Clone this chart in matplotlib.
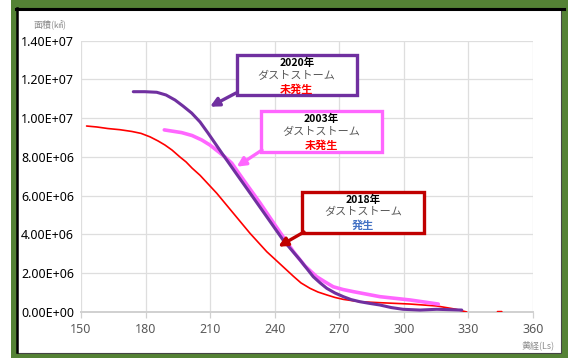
import matplotlib
matplotlib.use("Agg")
import matplotlib.pyplot as plt
from matplotlib.patches import Rectangle, FancyArrowPatch
from matplotlib.lines import Line2D
import numpy as np

plt.rcParams['font.family'] = ['Noto Sans', 'Noto Sans CJK JP', 'DejaVu Sans']

W, H = 568, 358

# --- data (Ls, area km^2) ---
ls_2018 = [152.6, 157.4, 162.5, 168.1, 173.6, 177.9, 182.1, 185.8, 189.0, 192.3,
           196.0, 198.8, 201.6, 205.3, 213.1, 220.8, 228.5, 236.3, 240.9, 248.7,
           252.2, 256.4, 260.1, 264.2, 268.0, 271.9, 279.6, 288.9, 302.9, 315.3,
           323.8, 329.2, np.nan, 343.5, 345.5]
area_2018 = [9.59e6, 9.54e6, 9.46e6, 9.40e6, 9.31e6, 9.21e6, 9.03e6, 8.82e6, 8.61e6, 8.35e6,
             7.99e6, 7.74e6, 7.42e6, 7.05e6, 6.12e6, 5.09e6, 4.06e6, 3.11e6, 2.64e6, 1.84e6,
             1.50e6, 1.22e6, 1.03e6, 8.8e5, 7.5e5, 6.5e5, 5.3e5, 4.8e5, 4.1e5, 3.1e5,
             1.5e5, 0.0, np.nan, 2e4, 2e4]

ls_2003 = [188.7, 196.8, 201.6, 206.1, 209.9, 213.8, 216.9, 220.0, 226.2, 233.2,
           240.1, 248.7, 254.1, 259.5, 263.4, 267.2, 271.7, 276.5, 288.9, 302.9,
           316.0]
area_2003 = [9.39e6, 9.25e6, 9.10e6, 8.87e6, 8.61e6, 8.27e6, 7.99e6, 7.68e6, 6.70e6, 5.62e6,
             4.49e6, 3.11e6, 2.37e6, 1.82e6, 1.55e6, 1.30e6, 1.16e6, 1.05e6, 7.9e5, 6.2e5,
             4.1e5]

ls_2020 = [174.3, 179.7, 185.2, 189.5, 193.7, 197.4, 201.4, 205.3, 209.0, 215.4,
           221.6, 228.5, 236.3, 243.9, 251.8, 257.9, 261.1, 264.2, 268.0, 271.9,
           275.5, 279.6, 284.3, 288.9, 294.1, 299.6, 307.5, 315.3, 326.9]
area_2020 = [1.136e7, 1.136e7, 1.133e7, 1.119e7, 1.093e7, 1.062e7, 1.026e7, 9.80e6, 9.23e6, 8.20e6,
             7.22e6, 6.14e6, 4.91e6, 3.71e6, 2.68e6, 1.82e6, 1.50e6, 1.22e6, 9.8e5, 7.9e5,
             6.4e5, 5.3e5, 4.4e5, 3.6e5, 2.3e5, 1.4e5, 1.0e5, 1.4e5, 1.0e5]

x_ticks = [150, 180, 210, 240, 270, 300, 330, 360]
y_ticks = [0, 2e6, 4e6, 6e6, 8e6, 1.0e7, 1.2e7, 1.4e7]

PURPLE = "#7030a0"
PINK = "#ff66ff"
RED = "#ff0000"
DARKRED = "#c00000"
BLUE = "#4472c4"
CJK = ['Noto Sans CJK JP', 'DejaVu Sans']


def fx(x):
    return x / W


def fy(y):
    return 1 - y / H


fig = plt.figure(figsize=(W / 100, H / 100), dpi=100)

# frame: green border with dark inner edge
fig.add_artist(Rectangle((fx(11), 0), fx(W) - fx(11), 1, transform=fig.transFigure,
                         facecolor="#548235", edgecolor="none", zorder=0))
fig.add_artist(Rectangle((fx(16.5), fy(352.5)), fx(561) - fx(16.5), fy(8) - fy(352.5),
                         transform=fig.transFigure, facecolor="white",
                         edgecolor="#444444", lw=0.8, zorder=0))
fig.add_artist(Line2D([fx(16), fx(564)], [fy(8.5), fy(8.5)], transform=fig.transFigure,
                      color="black", lw=2.2, zorder=1))
fig.add_artist(Line2D([fx(17), fx(17)], [fy(8), fy(352)], transform=fig.transFigure,
                      color="black", lw=1.8, zorder=1))

ax = fig.add_axes([fx(81), fy(312), fx(533) - fx(81), fy(40.5) - fy(312)])
ax.set_facecolor("none")

ax.plot(ls_2018, area_2018, color=RED, lw=1.2, solid_capstyle="round",
        solid_joinstyle="round", zorder=3)
ax.plot(ls_2003, area_2003, color=PINK, lw=2.6, solid_capstyle="round",
        solid_joinstyle="round", zorder=4)
ax.plot(ls_2020, area_2020, color=PURPLE, lw=2.2, solid_capstyle="round",
        solid_joinstyle="round", zorder=5)

ax.set_xlim(150, 360)
ax.set_ylim(0, 1.4e7)
ax.set_xticks(x_ticks)
ax.set_yticks(y_ticks)
ax.set_yticklabels(["{:.2E}".format(v) for v in y_ticks])
ax.grid(True, color="#dedede", lw=0.9)
ax.set_axisbelow(True)
for s in ["top", "right", "left"]:
    ax.spines[s].set_visible(False)
ax.spines["bottom"].set_color("#d0d0d0")
ax.spines["bottom"].set_linewidth(1.4)
ax.tick_params(axis="y", length=0, pad=5, labelsize=9, labelcolor="black")
ax.tick_params(axis="x", length=4, width=0.9, color="#d0d0d0", pad=4,
               labelsize=9, labelcolor="#595959")

fig.text(fx(50), fy(24), "面積(㎢)", fontsize=6.5, color="#8c8c8c", ha="center",
         va="center", family=CJK)
fig.text(fx(538), fy(345), "黄経(Ls)", fontsize=6.5, color="#8c8c8c", ha="center",
         va="center", family=CJK)


def callout(x0, y0, x1, y1, edge, year, status, status_color, tail, tip):
    fig.add_artist(Rectangle((fx(x0), fy(y1)), fx(x1) - fx(x0), fy(y0) - fy(y1),
                             transform=fig.transFigure, facecolor="white",
                             edgecolor=edge, lw=2.4, zorder=6))
    cx = fx((x0 + x1) / 2)
    fig.text(cx, fy(y0 + 8), year, fontsize=7.5, fontweight="bold", color="black",
             ha="center", va="center", zorder=7, family=CJK)
    fig.text(cx, fy(y0 + 20.5), "ダストストーム", fontsize=8, color="#595959",
             ha="center", va="center", zorder=7, family=CJK)
    fig.text(cx, fy(y0 + 34), status, fontsize=8, fontweight="bold", color=status_color,
             ha="center", va="center", zorder=7, family=CJK)
    fig.add_artist(FancyArrowPatch((fx(tail[0]), fy(tail[1])), (fx(tip[0]), fy(tip[1])),
                                   transform=fig.transFigure, arrowstyle="-|>",
                                   mutation_scale=13, color=edge, lw=2.4,
                                   shrinkA=0, shrinkB=0, zorder=6))


callout(236.7, 55, 356.7, 95, PURPLE, "2020年", "未発生", RED, (236, 93), (210, 106.7))
callout(261, 111, 381.7, 151.7, PINK, "2003年", "未発生", RED, (262, 150), (236.7, 166.7))
callout(302.3, 191.7, 424, 233.3, DARKRED, "2018年", "発生", BLUE, (304, 232), (278.3, 246.7))

fig.savefig("out.png", dpi=100)
